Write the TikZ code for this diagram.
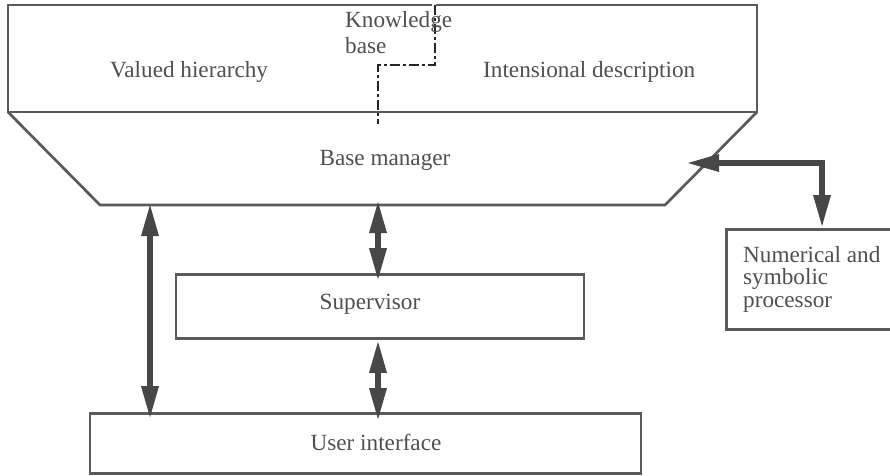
\documentclass[tikz,border=0pt]{standalone}
\usepackage{fontspec}
\setmainfont{Liberation Serif}
\usetikzlibrary{arrows.meta}
\definecolor{boxline}{HTML}{5A5A5A}
\definecolor{arrowc}{HTML}{474747}
\definecolor{txt}{HTML}{4F4F4F}
\begin{document}
\begin{tikzpicture}[x=1pt,y=-1pt,
  every node/.style={font=\fontsize{23.2}{25}\selectfont, text=txt},
  boxs/.style={draw=boxline, line width=2.7pt, minimum width=#1, inner sep=0pt},
  lbl/.style={inner sep=0pt},
  bigarrow/.style={draw=arrowc, line width=6pt,
     {Triangle[length=33pt,width=16pt]}-{Triangle[length=33pt,width=16pt]}},
  kbdash/.style={draw=black!85, line width=2.8pt, dash pattern=on 10pt off 3pt on 3pt off 3pt}]
\useasboundingbox (0,0) rectangle (890,475);
% knowledge base rectangle
\node[boxs=749pt, minimum height=107pt] (kb) at (382.5,58.5) {};
% base manager trapezoid
\coordinate (tl) at (8,112);
\coordinate (bl) at (100,205);
\coordinate (br) at (665,205);
\coordinate (tr) at (757,112);
\draw[boxline, line width=2.7pt, line join=miter] (tl) -- (bl) -- (br) -- (tr);
% dashed separator
\coordinate (d1) at (435,5);
\coordinate (d2) at (435,65);
\coordinate (d3) at (378,65);
\coordinate (d4) at (378,124);
\draw[white, line width=4pt] (434,2) -- (434,9);
\draw[kbdash] (d1) -- (d2) -- (d3) -- (d4);
% boxes
\node[boxs=408pt, minimum height=64pt] (sup) at (380,306.5) {};
\node[boxs=551pt, minimum height=60pt] (ui) at (365.5,443.5) {};
\node[boxs=170pt, minimum height=100pt, anchor=north west] (nsp) at (725,228) {};
% texts
\node[lbl, anchor=base west] (tvh) at (110,77) {Valued hierarchy};
\node[lbl, anchor=base west] (tid) at (483,77) {Intensional description};
\node[lbl, anchor=north west, align=left, font=\fontsize{23.2}{26}\selectfont] (tkb) at (345,11) {Knowledge\\base};
\node[lbl, anchor=base] (tbm) at (385,165) {Base manager};
\node[lbl, anchor=base] (tsup) at (370,309) {Supervisor};
\node[lbl, anchor=base] (tui) at (376,450) {User interface};
\node[lbl, anchor=north west, align=left, font=\fontsize{23.2}{22.5}\selectfont] (tnsp) at (743,246) {Numerical and\\symbolic\\processor};
% arrows
\coordinate (la) at (150,0);
\coordinate (ma) at (378,0);
\coordinate (bmb) at (0,205);
\path[bigarrow, shorten <=-2pt, shorten >=-7pt] (bmb -| la) -- (ui.north -| la);
\path[bigarrow, shorten <=-5pt, shorten >=-8pt] (bmb -| ma) -- (sup.north -| ma);
\path[bigarrow, shorten >=-9pt] (sup.south -| ma) -- (ui.north -| ma);
\coordinate (rtip) at (686,163);
\coordinate (rcorner) at (822,163);
\path[bigarrow, line join=miter] (rtip) -- (rcorner) -- (nsp.north -| rcorner);
\end{tikzpicture}
\end{document}
